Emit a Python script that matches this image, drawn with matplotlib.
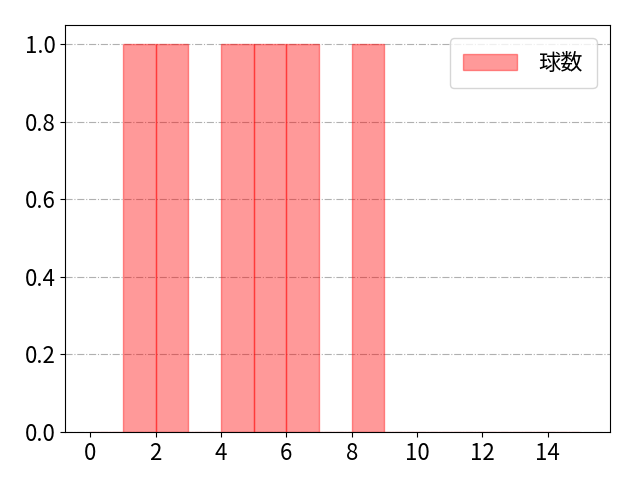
import matplotlib.pyplot as plt
import numpy as np

plt.rcParams['font.family'] = ['Noto Sans CJK JP', 'DejaVu Sans']
plt.rcParams['font.size'] = 16

bin_edges = np.arange(0, 15)
counts = [0, 1, 1, 0, 1, 1, 1, 0, 1, 0, 0, 0, 0, 0, 0]
label = "球数"

fig, ax = plt.subplots(figsize=(6.4, 4.8), dpi=100)
fig.subplots_adjust(left=0.102, right=0.953, top=0.948, bottom=0.1)
ax.bar(bin_edges, counts, width=1, align="edge", color="red", alpha=0.4,
       edgecolor="red", linewidth=1, label=label)
ax.set_xlim(-0.76, 15.9)
ax.set_xticks(np.arange(0, 15, 2))
ax.grid(axis="y", linestyle="-.", color="#b0b0b0")
ax.set_axisbelow(True)
ax.legend(loc="upper right", handlelength=2.4, handletextpad=1.0,
          borderpad=0.6, borderaxespad=0.6)
fig.savefig("out.png")
